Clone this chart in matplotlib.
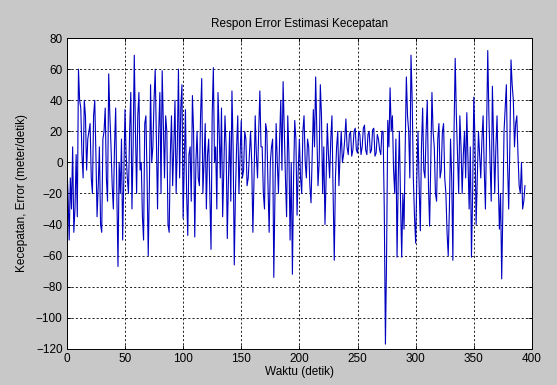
import numpy as np
import matplotlib
matplotlib.use("Agg")
import matplotlib.pyplot as plt

plt.rcParams['font.family'] = ['Liberation Sans', 'DejaVu Sans']

# estimated error values (1-second steps)
error = [
    0, -20, -50, -10, -30, 10, -45, -30, 5, -35, 60, 40, 35, 5, -10, 40, 30, -5, 15, 20,
    25, -10, -20, 30, 40, 5, -35, -15, 10, -40, -45, 15, 20, 35, -10, -25, 57, 30, 10, -15,
    -30, 10, 35, -20, -67, 0, -20, 15, -50, -10, 34, 5, -10, -20, 20, 45, -30, 10, 69, 20,
    -20, 30, 45, -5, 0, -35, -50, 25, 30, -10, -60, -15, 50, 0, 10, 40, 60, 15, -30, 20,
    45, -20, 59, 25, -10, 30, 20, -40, -45, 5, 30, -15, 10, 40, -20, 10, 60, -10, 35, 50,
    -36, 0, 34, -20, -47, 5, 10, -25, 43, 20, -48, 0, 20, -10, -15, 30, 54, -20, 0, 25,
    -30, 5, 15, -20, -56, 30, 61, 0, 10, -30, 45, 20, -10, 35, -35, -5, 30, 10, -49, -10,
    20, -25, 46, 10, -66, -20, 10, 30, -20, 5, 27, -10, -5, 20, 15, -15, -10, 5, 20, 0,
    -45, -10, 30, 5, -10, 20, 46, 10, 10, -20, -30, 25, 20, -15, -45, 0, 10, 15, -74, -20,
    25, 0, -20, 15, 40, -5, 52, 20, -10, -35, 30, 5, -50, 0, -72, -10, 27, 15, -34, -5,
    15, -10, -20, 20, 30, 0, -10, 15, 10, -15, -26, 5, 34, 10, 55, 20, -15, 0, 50, 30,
    -20, 10, -40, -10, 25, 5, -10, 15, 30, -20, -63, -10, 10, 20, -15, 5, 20, 0, 5, 15,
    28, 10, 5, 18, 20, 4, 8, 20, 22, 8, 6, 20, 18, 5, 10, 22, 24, 8, 5, 18,
    20, 6, 8, 21, 22, 4, 6, 18, 15, 8, 5, 20, 20, -30, -117, -60, 27, 10, 48, 20,
    30, -5, -20, 15, -61, -10, 20, -25, -61, -20, -43, 10, 55, 30, 20, -10, 69, 40, -10, -35,
    -52, -10, 20, -15, -44, 10, 35, -5, -10, 20, 40, -15, -41, 0, 45, 20, 10, -20, -25, 15,
    25, -10, -5, 20, 25, -10, -20, -45, -60, -30, 15, -10, -63, 20, 67, 30, 5, -20, 30, 10,
    -20, 5, 20, -10, 32, 0, -30, 10, -61, -20, 42, 15, -40, -10, 20, 5, -10, 15, 30, -5,
    -30, 20, 72, 30, 0, -25, 49, 15, -20, 10, 30, -10, -43, -20, -75, -30, 20, 35, 50, 0,
    -30, 10, 66, 50, 40, 10, 25, 30, 5, -15, -20, 0, -30, -25, -15,
]
waktu = np.arange(len(error))

xticks = [0, 50, 100, 150, 200, 250, 300, 350, 400]
yticks = [-120, -100, -80, -60, -40, -20, 0, 20, 40, 60, 80]

fig = plt.figure(figsize=(5.57, 3.85), dpi=100, facecolor='#c8c8c8')
ax = fig.add_axes([0.120, 0.094, 0.835, 0.807])
ax.set_facecolor('white')
ax.plot(waktu, error, color='#0000c0', linewidth=0.8)

ax.set_xlim(0, 400)
ax.set_ylim(-120, 80)
ax.set_xticks(xticks)
ax.set_yticks(yticks)
ax.tick_params(direction='in', top=True, right=True, labelsize=8.5, length=3, width=0.6)
ax.tick_params(axis='x', pad=3)
ax.tick_params(axis='y', pad=3)
ax.grid(True, color='black', linestyle=(0, (2.5, 2.5)), linewidth=0.6)
for s in ax.spines.values():
    s.set_linewidth(0.7)

ax.set_title('Respon Error Estimasi Kecepatan', fontsize=8.5, pad=8)
ax.set_xlabel('Waktu (detik)', fontsize=8.5, labelpad=1)
ax.set_ylabel('Kecepatan, Error (meter/detik)', fontsize=8.5, labelpad=6)

fig.savefig('out.png', dpi=100, facecolor=fig.get_facecolor())
